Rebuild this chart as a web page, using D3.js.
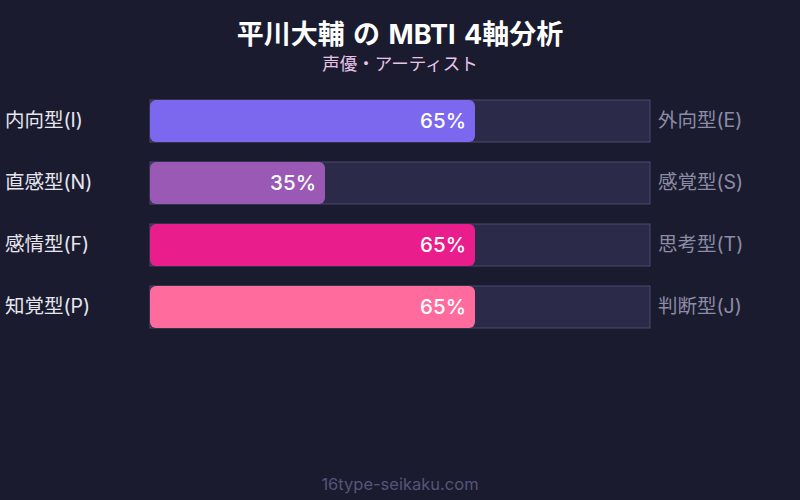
<!DOCTYPE html>
<html>
<head>
  <meta charset="utf-8">
  <script src="https://d3js.org/d3.v7.min.js"></script>
  <style>
    body { margin: 0; background: #1a1b2e; }
    text { font-family: Inter, "Noto Sans CJK JP", sans-serif; }
  </style>
</head>
<body>
<div id="chart"></div>
<script>

    const leftLabels = ["内向型(I)", "直感型(N)", "感情型(F)", "知覚型(P)"]
    const rightLabels = ["外向型(E)", "感覚型(S)", "思考型(T)", "判断型(J)"]
    const values = [65, 35, 65, 65]
    const colors = ["#7b68ee", "#9b59b6", "#e91e8c", "#ff6b9d"]

    const width = 800,
        height = 500

    const margin = { top: 100, left: 150, right: 150 },
        step = 62,
        barHeight = 42

    var xScale = d3.scaleLinear()
        .domain([0, 100])
        .range([margin.left, width - margin.right])

    var yScale = d3.scaleBand()
        .domain(leftLabels)
        .range([margin.top, margin.top + step * leftLabels.length])

    var svg = d3.select("#chart").append("svg")
        .attr("width", width)
        .attr("height", height)

    svg.append("rect")
        .attr("width", width)
        .attr("height", height)
        .attr("fill", "#1a1b2e")

    svg.append("text")
        .attr("x", width / 2)
        .attr("y", 44)
        .attr("text-anchor", "middle")
        .attr("fill", "#ffffff")
        .attr("font-size", 27)
        .attr("font-weight", "bold")
        .attr("word-spacing", 2)
        .text("平川大輔 の MBTI 4軸分析")

    svg.append("text")
        .attr("x", width / 2)
        .attr("y", 70)
        .attr("text-anchor", "middle")
        .attr("fill", "#e8c4e8")
        .attr("font-size", 17.5)
        .text("声優・アーティスト")

    var rows = svg.selectAll("g.row")
        .data(leftLabels)
        .enter().append("g")
        .attr("class", "row")
        .attr("transform", d => `translate(0, ${yScale(d)})`)

    // background track
    rows.append("rect")
        .attr("x", xScale(0))
        .attr("width", xScale(100) - xScale(0))
        .attr("height", barHeight)
        .attr("fill", "#2b2a48")
        .attr("stroke", "#4a4a6e")
        .attr("stroke-width", 1)

    rows.append("rect")
        .attr("x", xScale(0))
        .attr("width", (d, i) => xScale(values[i]) - xScale(0))
        .attr("height", barHeight)
        .attr("rx", 6)
        .attr("fill", (d, i) => colors[i])

    rows.append("text")
        .attr("x", (d, i) => xScale(values[i]) - 9)
        .attr("y", barHeight / 2 + 7)
        .attr("text-anchor", "end")
        .attr("fill", "#ffffff")
        .attr("font-size", 20.5)
        .attr("font-weight", 500)
        .text((d, i) => values[i] + "%")

    rows.append("text")
        .attr("x", 5)
        .attr("y", barHeight / 2 + 6)
        .attr("fill", "#e6e6ee")
        .attr("font-size", 19.5)
        .text(d => d)

    rows.append("text")
        .attr("x", 658)
        .attr("y", barHeight / 2 + 6)
        .attr("fill", "#8c8ca6")
        .attr("font-size", 19.5)
        .text((d, i) => rightLabels[i])

    svg.append("text")
        .attr("x", width / 2)
        .attr("y", 490)
        .attr("text-anchor", "middle")
        .attr("fill", "#55557a")
        .attr("font-size", 16.5)
        .text("16type-seikaku.com")

</script>
</body>
</html>
